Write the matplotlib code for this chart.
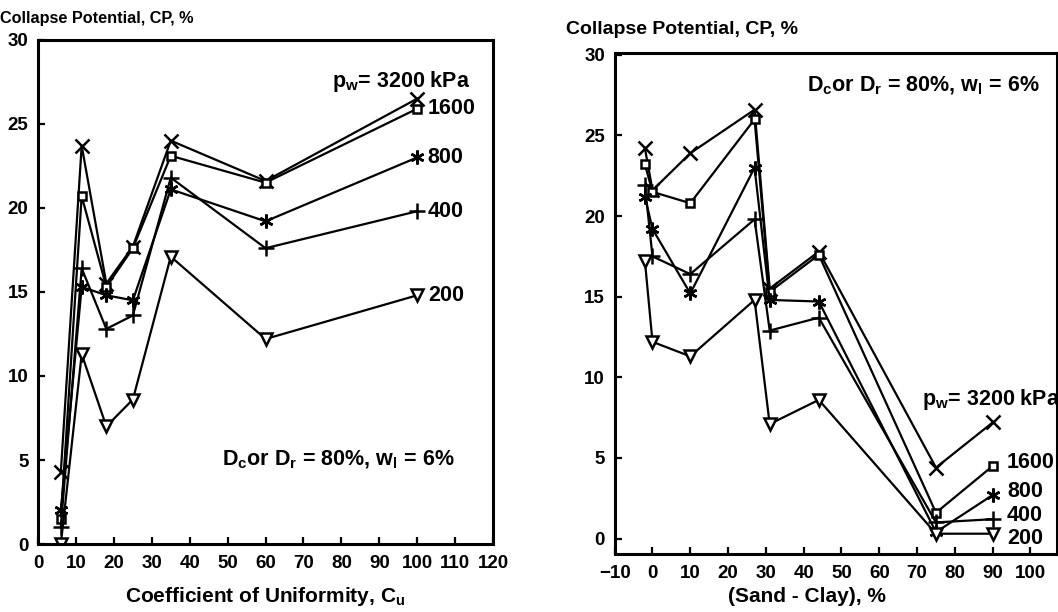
import matplotlib
matplotlib.use('Agg')
import matplotlib.pyplot as plt

plt.rcParams['font.family'] = ['Liberation Sans', 'DejaVu Sans']
plt.rcParams['font.weight'] = 'bold'
plt.rcParams['mathtext.fontset'] = 'custom'
plt.rcParams['mathtext.rm'] = 'Liberation Sans:bold'
plt.rcParams['mathtext.bf'] = 'Liberation Sans:bold'
plt.rcParams['mathtext.it'] = 'Liberation Sans:bold'

# left chart: collapse potential vs coefficient of uniformity
cu = [6, 11.5, 18, 25, 35, 60, 100]
cp_3200 = [4.3, 23.7, 15.5, 17.7, 24.0, 21.6, 26.5]
cp_1600 = [1.5, 20.7, 15.3, 17.6, 23.1, 21.5, 25.9]
cp_800 = [2.0, 15.3, 14.8, 14.5, 21.1, 19.2, 23.0]
cp_400 = [1.0, 16.4, 12.8, 13.6, 21.8, 17.6, 19.8]
cp_200 = [0.0, 11.3, 7.0, 8.6, 17.1, 12.2, 14.8]

# right chart: collapse potential vs (sand - clay)
sand_clay = [-2, 0, 10, 27, 31, 44, 75, 90]
r_3200 = [24.2, 21.6, 23.9, 26.6, 15.5, 17.8, 4.4, 7.2]
r_1600 = [23.2, 21.5, 20.8, 26.0, 15.3, 17.6, 1.6, 4.5]
r_800 = [21.2, 19.2, 15.2, 23.0, 14.8, 14.7, 0.4, 2.7]
r_400 = [21.9, 17.5, 16.4, 19.8, 12.9, 13.7, 1.0, 1.2]
r_200 = [17.2, 12.2, 11.3, 14.8, 7.1, 8.6, 0.3, 0.3]

pressures = ['3200', '1600', '800', '400', '200']
# label heights at the right-hand end of the right chart
r_label_y = [4.7, 2.9, 1.4, 0.0]

asterisk = (6, 2, 0)
markers = ['x', 's', asterisk, '+', 'v']
msizes = [10, 6, 10, 11, 8]

fig = plt.figure(figsize=(10.58, 6.12), dpi=100)
ax1 = fig.add_axes([0.036, 0.111, 0.430, 0.824])
ax2 = fig.add_axes([0.581, 0.095, 0.418, 0.818])


def draw(ax, x, series):
    for ys, m, ms in zip(series, markers, msizes):
        ax.plot(x, ys, color='black', lw=1.6, marker=m, markersize=ms,
                markerfacecolor='white', markeredgecolor='black', markeredgewidth=1.8)


def style(ax):
    for s in ax.spines.values():
        s.set_linewidth(2.2)
    ax.tick_params(direction='in', length=5, width=1.6, labelsize=13.5)
    ax.tick_params(axis='x', pad=8)
    ax.tick_params(axis='y', pad=7)
    for lab in ax.get_xticklabels() + ax.get_yticklabels():
        lab.set_fontweight('bold')


note = 'D$_\\mathbf{c}$or D$_\\mathbf{r}$ = 80%, w$_\\mathbf{l}$ = 6%'
pw = 'p$_\\mathbf{w}$= 3200 kPa'

draw(ax1, cu, [cp_3200, cp_1600, cp_800, cp_400, cp_200])
ax1.set_xlim(0, 120)
ax1.set_ylim(0, 30)
ax1.set_xticks(range(0, 121, 10))
ax1.set_yticks(range(0, 31, 5))
style(ax1)
fig.text(265 / 1058, 1 - 597 / 612, 'Coefficient of Uniformity, C$_\\mathbf{u}$',
         fontsize=15, fontweight='bold', ha='center', va='center')
fig.text(0.0, 1 - 18 / 612, 'Collapse Potential, CP, %', fontsize=11.7,
         fontweight='bold', va='center')

ax1.text(77.5, 27.5, pw, fontsize=15.5, fontweight='bold', va='center')
for lab, yv in zip(pressures[1:], [cp_1600[-1], cp_800[-1], cp_400[-1], cp_200[-1]]):
    ax1.text(102.8, yv, lab, fontsize=15.5, fontweight='bold', va='center')
ax1.text(48.5, 5.0, note, fontsize=15.5, fontweight='bold', va='center')

draw(ax2, sand_clay, [r_3200, r_1600, r_800, r_400, r_200])
ax2.set_xlim(-10, 107)
ax2.set_ylim(-0.95, 30.1)
ax2.set_xticks(range(-10, 101, 10))
ax2.set_yticks(range(0, 31, 5))
style(ax2)
fig.text(807 / 1058, 1 - 597 / 612, '(Sand - Clay), %', fontsize=15,
         fontweight='bold', ha='center', va='center')
fig.text(566 / 1058, 1 - 30 / 612, 'Collapse Potential, CP, %', fontsize=14,
         fontweight='bold', va='center')

ax2.text(71.2, 8.6, pw, fontsize=15.5, fontweight='bold', va='center')
for lab, yv in zip(pressures[1:], r_label_y):
    ax2.text(93.8, yv, lab, fontsize=15.5, fontweight='bold', va='center')
ax2.text(41, 28.1, note, fontsize=15.5, fontweight='bold', va='center')

fig.savefig('out.png', dpi=100)
